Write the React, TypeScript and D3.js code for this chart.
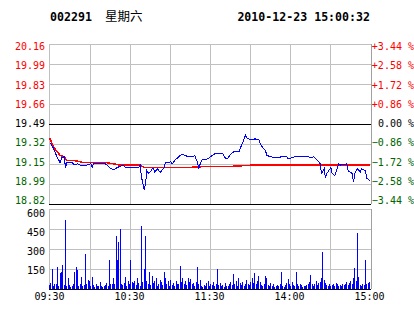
import React from "react";
import * as d3 from "d3";

const stockCode = "002291";
const weekday = "星期六";
const timestamp = "2010-12-23 15:00:32";
const prevClose = 19.49;
const pctStep = 0.0086;

const priceLabels = ["20.16", "19.99", "19.83", "19.66", "19.49", "19.32", "19.15", "18.99", "18.82"];
const pctLabels = ["+3.44 %", "+2.58 %", "+1.72 %", "+0.86 %", "0.00 %", "−0.86 %", "−1.72 %", "−2.58 %", "−3.44 %"];
const volTicks = [600, 450, 300, 150];
const timeLabels = ["09:30", "10:30", "11:30", "14:00", "15:00"];
const timeTickMinutes = [0, 60, 120, 180, 240];

const priceMinutes = [0,1,2,3,4,6,8,9,11,12,13,14,17,18,19,21,23,28,31,32,33,38,42,46,48,51,55,57,60,63,67,68,69,71,72,73,74,76,77,78,79,81,82,83,84,86,87,89,91,92,94,97,99,102,104,107,109,111,112,113,114,116,118,121,123,126,128,130,131,133,136,138,142,143,145,147,148,149,152,154,157,159,162,163,166,171,174,178,179,184,191,194,196,198,201,203,204,206,207,208,211,212,214,217,218,223,224,227,228,229,231,233,234,237,238,240];
const prices = [19.33,19.33,19.31,19.29,19.26,19.21,19.17,19.21,19.22,19.13,19.17,19.17,19.17,19.16,19.15,19.16,19.15,19.15,19.16,19.13,19.16,19.16,19.16,19.12,19.11,19.13,19.15,19.13,19.13,19.13,19.13,19.15,19.05,18.94,18.99,19.10,19.08,19.10,19.12,19.12,19.09,19.12,19.10,19.09,19.10,19.13,19.17,19.17,19.18,19.16,19.19,19.22,19.24,19.23,19.22,19.22,19.23,19.17,19.12,19.16,19.19,19.20,19.20,19.22,19.24,19.25,19.25,19.25,19.22,19.20,19.24,19.26,19.26,19.29,19.34,19.40,19.38,19.37,19.36,19.37,19.36,19.31,19.27,19.23,19.22,19.21,19.22,19.22,19.20,19.22,19.22,19.22,19.21,19.22,19.19,19.16,19.08,19.12,19.04,19.08,19.13,19.08,19.06,19.16,19.15,19.16,19.10,19.08,19.01,19.08,19.12,19.09,19.12,19.10,19.04,19.02];

const avgMinutes = [0,3,6,8,11,13,18,26,43,53,68,71,86,104,121,138,153,166,206,240];
const avgPrices = [19.38,19.30,19.26,19.23,19.22,19.19,19.19,19.17,19.17,19.15,19.15,19.13,19.13,19.13,19.14,19.14,19.15,19.15,19.15,19.15];

const volumes = [
  30,45,150,20,35,40,165,25,120,125,
  180,30,515,20,80,30,15,25,40,130,
  165,145,25,40,90,20,30,260,35,70,
  60,25,90,30,15,40,20,25,50,20,
  15,20,30,45,25,220,35,40,80,35,
  395,215,350,450,40,30,45,90,25,60,
  35,215,50,45,60,30,80,45,20,470,
  50,150,400,60,40,130,30,100,45,60,
  85,25,40,70,55,30,125,80,40,60,
  25,70,30,45,20,60,35,40,175,50,
  80,40,60,30,85,50,75,35,45,25,
  55,165,40,70,20,15,30,25,45,60,
  20,40,30,50,25,35,150,30,45,20,
  30,15,45,25,20,35,50,30,115,40,
  60,25,80,45,30,50,20,35,70,40,
  30,55,80,45,120,35,60,95,50,30,
  25,40,95,85,30,20,45,25,35,15,
  20,30,25,40,130,20,15,30,45,75,
  35,20,55,30,25,130,40,20,35,30,
  15,25,20,30,40,55,105,35,25,40,
  60,30,45,50,85,280,65,45,30,25,
  35,20,30,40,25,45,35,20,30,25,
  40,30,35,55,30,45,60,40,80,160,
  60,420,90,30,25,40,30,215,40,45,
  50
];

const W = 414, H = 314;
const left = 49, right = 371;
const pTop = 44, pBottom = 204;
const vTop = 209, vBottom = 289;
const grid = "#c0c0c0";
const red = "#ff0000";
const green = "#006400";
const mono = "'DejaVu Sans Mono', monospace";

export default function App() {
  const x = d3.scaleLinear().domain([0, 240]).range([left + 0.5, 369.5]);
  const yP = d3.scaleLinear()
    .domain([prevClose * (1 - 4 * pctStep), prevClose * (1 + 4 * pctStep)])
    .range([pBottom + 0.5, pTop + 0.5]);
  const yLabel = d3.scaleLinear().domain([8, 0]).range([200.7, 46.7]);
  const yV = d3.scaleLinear().domain([0, 600]).range([vBottom, vTop]);
  const yVLabel = d3.scaleLinear().domain([150, 600]).range([270, 213.3]);

  const levels = d3.range(9).map(i => prevClose * (1 + (4 - i) * pctStep));
  const vGridX = d3.range(1, 8).map(i => Math.round(x(i * 30)) + 0.5);

  const priceLine = d3.line<number>().x((_, i) => x(priceMinutes[i])).y(d => yP(d));
  const avgLine = d3.line<number>().x((_, i) => x(avgMinutes[i])).y(d => yP(d));

  const labelColor = (i: number) => (i < 4 ? red : i === 4 ? "#000" : green);

  return (
    <svg width={W} height={H} style={{ position: "absolute", left: 0, top: 0, background: "#fff" }}>
      {/* header */}
      <text x={50} y={21} fontFamily={mono} fontWeight="bold" fontSize={11.6} fill="#000">{stockCode}</text>
      <text x={105} y={21} fontFamily="'Noto Sans CJK SC', sans-serif" fontSize={12.5} fill="#000">{weekday}</text>
      <text x={370} y={21} textAnchor="end" fontFamily={mono} fontWeight="bold" fontSize={11.6} fill="#000">{timestamp}</text>

      <g shapeRendering="crispEdges">
        {/* price panel grid */}
        {levels.map((lv, i) => (
          i === 0 || i === 4 || i === 8 ? null :
          <line key={"h" + i} x1={left} x2={right} y1={Math.round(yP(lv) - 0.5) + 0.5} y2={Math.round(yP(lv) - 0.5) + 0.5} stroke={grid} />
        ))}
        <line x1={left} x2={right} y1={pTop + 0.5} y2={pTop + 0.5} stroke={grid} />
        {vGridX.map((gx, i) => (
          <line key={"pv" + i} x1={gx} x2={gx} y1={pTop} y2={pBottom} stroke={grid} />
        ))}
        <line x1={left + 0.5} x2={left + 0.5} y1={pTop} y2={pBottom} stroke={grid} />
        <line x1={right + 0.5} x2={right + 0.5} y1={pTop} y2={pBottom} stroke="#a0a0a0" />

        {/* volume panel grid */}
        {volTicks.map((v, i) => (
          <line key={"vh" + i} x1={left} x2={right} y1={yV(v) + 0.5} y2={yV(v) + 0.5} stroke={grid} />
        ))}
        {vGridX.map((gx, i) => (
          <line key={"vv" + i} x1={gx} x2={gx} y1={vTop} y2={vBottom} stroke={grid} />
        ))}
        <line x1={left + 0.5} x2={left + 0.5} y1={vTop} y2={vBottom} stroke={grid} />
        <line x1={right + 0.5} x2={right + 0.5} y1={vTop} y2={vBottom} stroke="#a0a0a0" />

        {/* volume bars */}
        {volumes.map((v, i) => (
          <rect key={"b" + i} x={Math.round(x(i) - 0.5)} y={yV(v)} width={1} height={vBottom - yV(v)} fill="#0000ff" />
        ))}
        <line x1={left} x2={right} y1={vBottom + 0.5} y2={vBottom + 0.5} stroke="#000" />

        {/* black reference lines */}
        <line x1={left} x2={right} y1={Math.round(yP(prevClose) - 0.5) + 0.5} y2={Math.round(yP(prevClose) - 0.5) + 0.5} stroke="#000" />
        <line x1={left} x2={right} y1={pBottom + 0.5} y2={pBottom + 0.5} stroke="#000" />

        {/* lines */}
        <path d={avgLine(avgPrices) || ""} fill="none" stroke={red} strokeWidth={1.5} />
        <path d={priceLine(prices) || ""} fill="none" stroke="#0000ff" strokeWidth={1} />
      </g>

      {/* left price labels */}
      {priceLabels.map((t, i) => (
        <text key={"pl" + i} x={45} y={yLabel(i)} dy="0.35em" textAnchor="end" fontFamily={mono} fontSize={10} fill={labelColor(i)}>{t}</text>
      ))}
      {/* right pct labels */}
      {pctLabels.map((t, i) => (
        <text key={"pr" + i} x={414} y={yLabel(i)} dy="0.35em" textAnchor="end" fontFamily={mono} fontSize={10} fill={labelColor(i)}>{t}</text>
      ))}
      {/* volume labels */}
      {volTicks.map((v, i) => (
        <text key={"vl" + i} x={45} y={yVLabel(v)} dy="0.35em" textAnchor="end" fontFamily={mono} fontSize={10} fill="#000">{v}</text>
      ))}
      {/* time labels */}
      {timeLabels.map((t, i) => (
        <text key={"tl" + i} x={x(timeTickMinutes[i])} y={300} textAnchor="middle" fontFamily={mono} fontSize={10} fill="#000">{t}</text>
      ))}
    </svg>
  );
}
